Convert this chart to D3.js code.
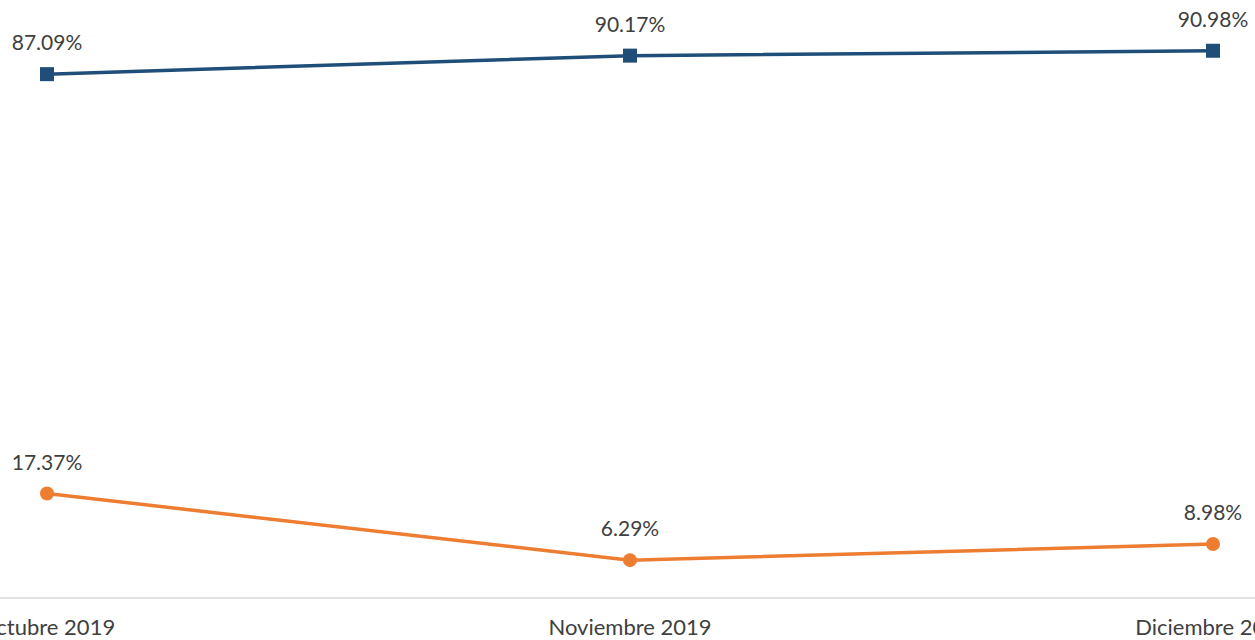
<!DOCTYPE html>
<html>
<head>
<meta charset="utf-8">
<script src="https://d3js.org/d3.v7.min.js"></script>
<style>
  body { margin: 0; background: #fff; }
  text { font-family: Lato, "Open Sans", sans-serif; fill: #404040; }
</style>
</head>
<body>
<svg width="1255" height="640"></svg>
<script>
var months = ["Octubre 2019", "Noviembre 2019", "Diciembre 2019"];
var blueValues = [87.09, 90.17, 90.98];
var orangeValues = [17.37, 6.29, 8.98];

var width = 1255, height = 640;
var svg = d3.select("svg");

var x = d3.scalePoint()
    .domain(months)
    .range([47, 1213]);

var y = d3.scaleLinear()
    .domain([0, 100])
    .range([598, -3.5]);

// axis line
svg.append("line")
    .attr("x1", 0)
    .attr("x2", width)
    .attr("y1", y(0))
    .attr("y2", y(0))
    .attr("stroke", "#d9d9d9")
    .attr("stroke-width", 1.5);

// x labels
svg.selectAll(".xlabel")
    .data(months)
    .enter()
    .append("text")
    .attr("class", "xlabel")
    .attr("x", function(d){ return x(d); })
    .attr("y", 635)
    .attr("text-anchor", "middle")
    .style("font-size", "22px")
    .text(function(d){ return d; });

var line = d3.line()
    .x(function(d, i){ return x(months[i]); })
    .y(function(d){ return y(d); });

function drawSeries(values, color, marker) {
  svg.append("path")
    .datum(values)
    .attr("d", line)
    .attr("fill", "none")
    .attr("stroke", color)
    .attr("stroke-width", 3.5);

  if (marker == "square") {
    svg.selectAll(null)
      .data(values)
      .enter()
      .append("rect")
      .attr("x", function(d, i){ return x(months[i]) - 7; })
      .attr("y", function(d){ return y(d) - 7; })
      .attr("width", 14)
      .attr("height", 14)
      .attr("fill", color);
  } else {
    svg.selectAll(null)
      .data(values)
      .enter()
      .append("circle")
      .attr("cx", function(d, i){ return x(months[i]); })
      .attr("cy", function(d){ return y(d); })
      .attr("r", 7)
      .attr("fill", color);
  }

  svg.selectAll(null)
    .data(values)
    .enter()
    .append("text")
    .attr("x", function(d, i){ return x(months[i]); })
    .attr("y", function(d){ return y(d) - 24; })
    .attr("text-anchor", "middle")
    .style("font-size", "21px")
    .text(function(d){ return d.toFixed(2) + "%"; });
}

drawSeries(blueValues, "#1f4e79", "square");
drawSeries(orangeValues, "#ed7d31", "circle");
</script>
</body>
</html>
